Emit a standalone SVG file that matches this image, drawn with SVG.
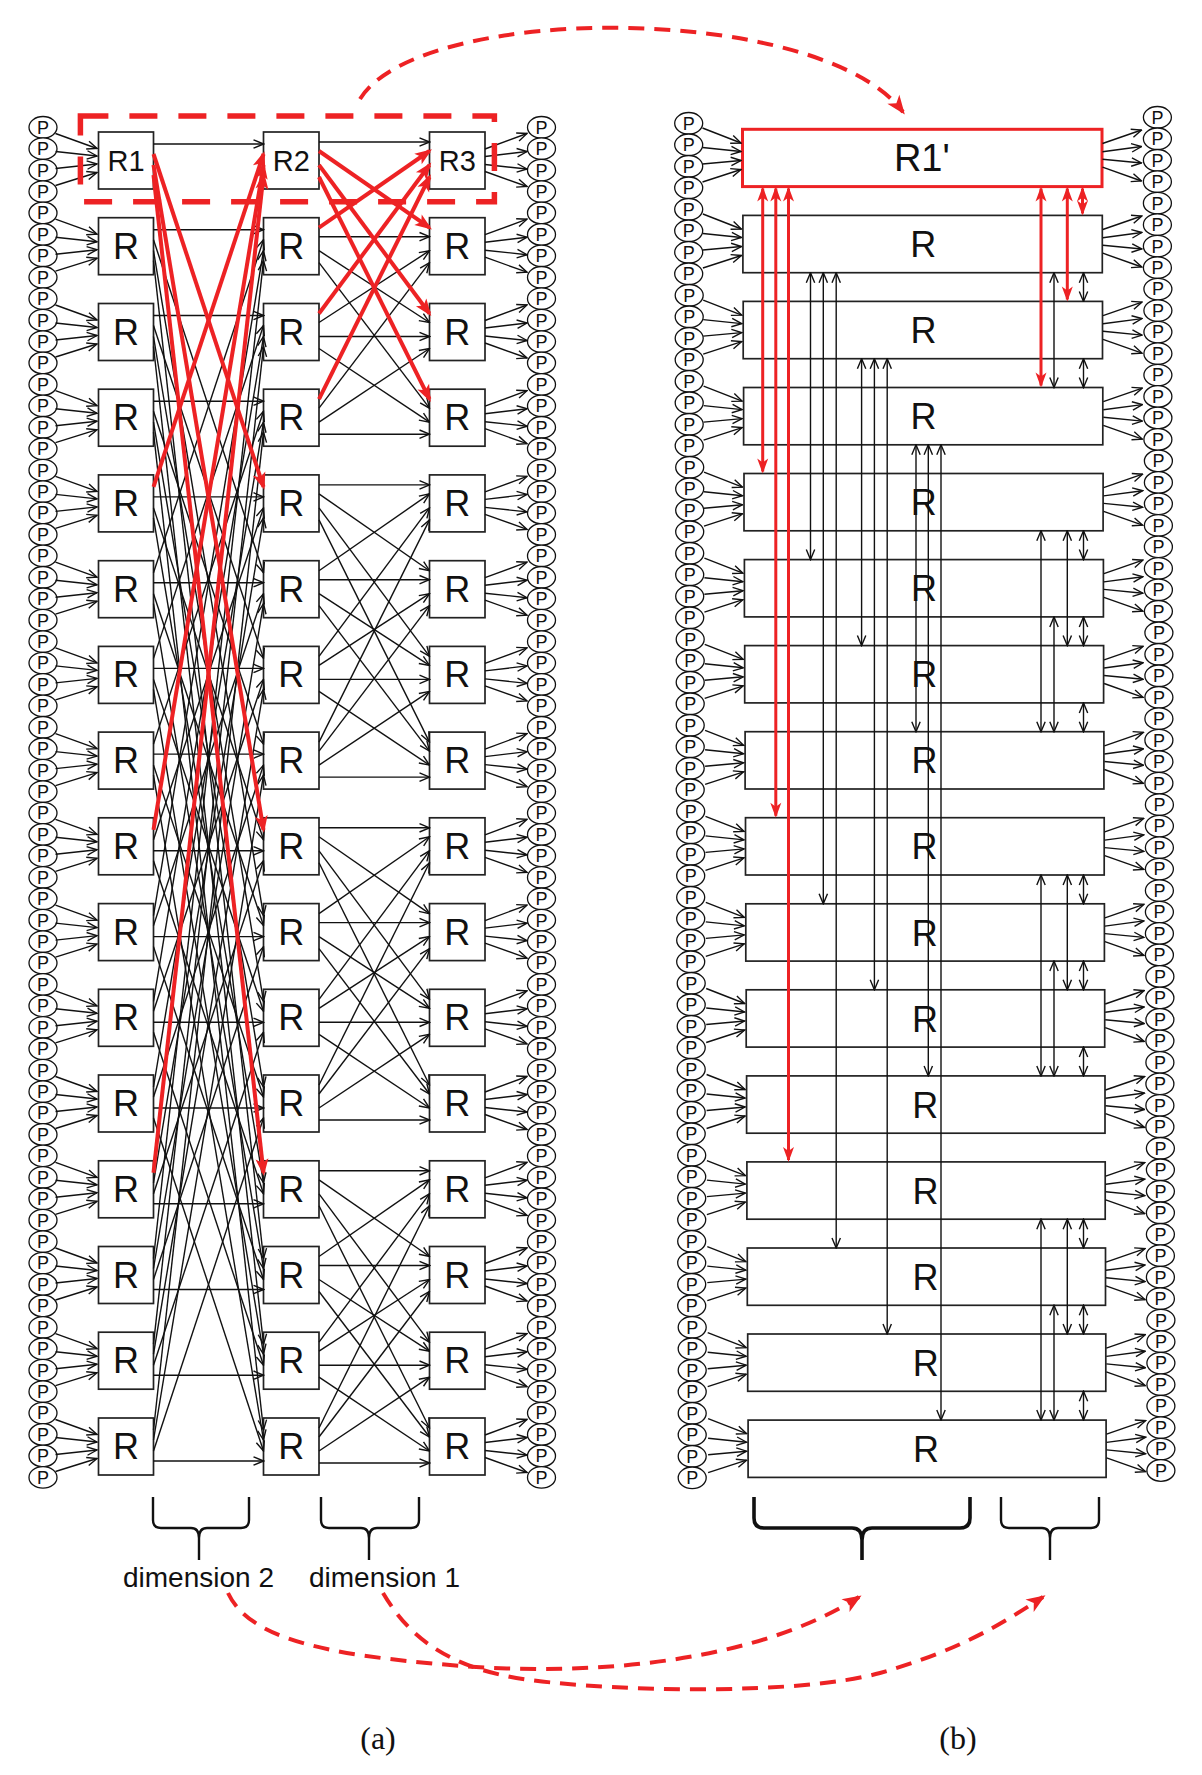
<svg xmlns="http://www.w3.org/2000/svg" xmlns:xlink="http://www.w3.org/1999/xlink" width="1202" height="1775" viewBox="0 0 1202 1775">
<style>
.bx{fill:#fff;stroke:#222;stroke-width:1.7}
.rt{font-family:"Liberation Sans",Arial,sans-serif;font-size:36px;text-anchor:middle;fill:#111}
.rt2{font-family:"Liberation Sans",Arial,sans-serif;font-size:29px;text-anchor:middle;fill:#111}
.pt{font-family:"Liberation Sans",Arial,sans-serif;font-size:18px;text-anchor:middle;fill:#111}
.lb{font-family:"Liberation Sans",Arial,sans-serif;font-size:28px;fill:#111}
.cap{font-family:"Liberation Serif","Times New Roman",serif;font-size:32px;text-anchor:middle;fill:#111}
.ln{stroke:#111;stroke-width:1.4;fill:none;marker-end:url(#ah)}
.dl{stroke:#111;stroke-width:1.4;fill:none;marker-start:url(#ah);marker-end:url(#ah)}
.rl{stroke:#ed2224;stroke-width:4;fill:none;marker-end:url(#ra)}
.rd{stroke:#ed2224;stroke-width:3;fill:none;marker-start:url(#rb);marker-end:url(#rb)}
.dash{stroke:#ed2224;stroke-width:4;fill:none;stroke-dasharray:16 10;marker-end:url(#rc)}
.brace{fill:none;stroke:#111;stroke-width:2.4}
.brace2{fill:none;stroke:#111;stroke-width:3.6}
</style>
<defs>
<marker id="ah" viewBox="-11 -6 12 12" refX="0" refY="0" markerWidth="12" markerHeight="12" markerUnits="userSpaceOnUse" orient="auto-start-reverse"><path d="M-10,-4.2 L0,0 L-10,4.2" fill="none" stroke="#111" stroke-width="1.4"/></marker>
<marker id="ra" viewBox="-16 -8 20 16" refX="0" refY="0" markerWidth="20" markerHeight="16" markerUnits="userSpaceOnUse" orient="auto-start-reverse"><path d="M3,0 L-14,-6.5 L-10,0 L-14,6.5 Z" fill="#ed2224"/></marker>
<marker id="rb" viewBox="-15 -7 18 14" refX="0" refY="0" markerWidth="18" markerHeight="14" markerUnits="userSpaceOnUse" orient="auto-start-reverse"><path d="M2,0 L-13,-5.5 L-9,0 L-13,5.5 Z" fill="#ed2224"/></marker>
<marker id="rc" viewBox="-18 -9 22 18" refX="0" refY="0" markerWidth="22" markerHeight="18" markerUnits="userSpaceOnUse" orient="auto"><path d="M3,0 L-16,-7.5 L-11,0 L-16,7.5 Z" fill="#ed2224"/></marker>
<g id="P"><ellipse rx="14" ry="10.8" fill="#fff" stroke="#111" stroke-width="1.3"/><text y="6.3" class="pt">P</text></g>
<g id="inA"><line class="ln" x1="55.5" y1="-27" x2="97" y2="-12"/><line class="ln" x1="55.5" y1="-9" x2="97" y2="-4.5"/><line class="ln" x1="55.5" y1="8" x2="97" y2="3.5"/><line class="ln" x1="55.5" y1="25" x2="97" y2="12"/></g>
<g id="outA"><line class="ln" x1="485" y1="-11.5" x2="527" y2="-27"/><line class="ln" x1="485" y1="-4" x2="527" y2="-9"/><line class="ln" x1="485" y1="4" x2="527" y2="8.5"/><line class="ln" x1="485" y1="11" x2="527" y2="26"/></g>
<g id="inB"><line class="ln" x1="-40" y1="-30" x2="-1.5" y2="-15"/><line class="ln" x1="-40" y1="-10.5" x2="-1.5" y2="-6.5"/><line class="ln" x1="-40" y1="6" x2="-1.5" y2="2.5"/><line class="ln" x1="-40" y1="24" x2="-1.5" y2="11.5"/></g>
<g id="outB"><line class="ln" x1="0.5" y1="-14.5" x2="39.5" y2="-28"/><line class="ln" x1="0.5" y1="-6.3" x2="39.5" y2="-11.5"/><line class="ln" x1="0.5" y1="1.2" x2="39.5" y2="5"/><line class="ln" x1="0.5" y1="9.2" x2="39.5" y2="23"/></g>
</defs>
<rect width="1202" height="1775" fill="#fff"/>

<g id="panel-a-processors">
<use id="pal0" href="#P" x="43" y="127.3"/><use id="pal1" href="#P" x="43" y="148.7"/><use id="pal2" href="#P" x="43" y="170.2"/><use id="pal3" href="#P" x="43" y="191.6"/>
<use id="pal4" href="#P" x="43" y="213"/><use id="pal5" href="#P" x="43" y="234.5"/><use id="pal6" href="#P" x="43" y="255.9"/><use id="pal7" href="#P" x="43" y="277.3"/>
<use id="pal8" href="#P" x="43" y="298.7"/><use id="pal9" href="#P" x="43" y="320.2"/><use id="pal10" href="#P" x="43" y="341.6"/><use id="pal11" href="#P" x="43" y="363"/>
<use id="pal12" href="#P" x="43" y="384.5"/><use id="pal13" href="#P" x="43" y="405.9"/><use id="pal14" href="#P" x="43" y="427.3"/><use id="pal15" href="#P" x="43" y="448.8"/>
<use id="pal16" href="#P" x="43" y="470.2"/><use id="pal17" href="#P" x="43" y="491.6"/><use id="pal18" href="#P" x="43" y="513"/><use id="pal19" href="#P" x="43" y="534.5"/>
<use id="pal20" href="#P" x="43" y="555.9"/><use id="pal21" href="#P" x="43" y="577.3"/><use id="pal22" href="#P" x="43" y="598.8"/><use id="pal23" href="#P" x="43" y="620.2"/>
<use id="pal24" href="#P" x="43" y="641.6"/><use id="pal25" href="#P" x="43" y="663.1"/><use id="pal26" href="#P" x="43" y="684.5"/><use id="pal27" href="#P" x="43" y="705.9"/>
<use id="pal28" href="#P" x="43" y="727.3"/><use id="pal29" href="#P" x="43" y="748.8"/><use id="pal30" href="#P" x="43" y="770.2"/><use id="pal31" href="#P" x="43" y="791.6"/>
<use id="pal32" href="#P" x="43" y="813.1"/><use id="pal33" href="#P" x="43" y="834.5"/><use id="pal34" href="#P" x="43" y="855.9"/><use id="pal35" href="#P" x="43" y="877.4"/>
<use id="pal36" href="#P" x="43" y="898.8"/><use id="pal37" href="#P" x="43" y="920.2"/><use id="pal38" href="#P" x="43" y="941.6"/><use id="pal39" href="#P" x="43" y="963.1"/>
<use id="pal40" href="#P" x="43" y="984.5"/><use id="pal41" href="#P" x="43" y="1005.9"/><use id="pal42" href="#P" x="43" y="1027.4"/><use id="pal43" href="#P" x="43" y="1048.8"/>
<use id="pal44" href="#P" x="43" y="1070.2"/><use id="pal45" href="#P" x="43" y="1091.7"/><use id="pal46" href="#P" x="43" y="1113.1"/><use id="pal47" href="#P" x="43" y="1134.5"/>
<use id="pal48" href="#P" x="43" y="1155.9"/><use id="pal49" href="#P" x="43" y="1177.4"/><use id="pal50" href="#P" x="43" y="1198.8"/><use id="pal51" href="#P" x="43" y="1220.2"/>
<use id="pal52" href="#P" x="43" y="1241.7"/><use id="pal53" href="#P" x="43" y="1263.1"/><use id="pal54" href="#P" x="43" y="1284.5"/><use id="pal55" href="#P" x="43" y="1306"/>
<use id="pal56" href="#P" x="43" y="1327.4"/><use id="pal57" href="#P" x="43" y="1348.8"/><use id="pal58" href="#P" x="43" y="1370.2"/><use id="pal59" href="#P" x="43" y="1391.7"/>
<use id="pal60" href="#P" x="43" y="1413.1"/><use id="pal61" href="#P" x="43" y="1434.5"/><use id="pal62" href="#P" x="43" y="1456"/><use id="pal63" href="#P" x="43" y="1477.4"/>

<use id="par0" href="#P" x="541.5" y="127.3"/><use id="par1" href="#P" x="541.5" y="148.7"/><use id="par2" href="#P" x="541.5" y="170.2"/><use id="par3" href="#P" x="541.5" y="191.6"/>
<use id="par4" href="#P" x="541.5" y="213"/><use id="par5" href="#P" x="541.5" y="234.5"/><use id="par6" href="#P" x="541.5" y="255.9"/><use id="par7" href="#P" x="541.5" y="277.3"/>
<use id="par8" href="#P" x="541.5" y="298.7"/><use id="par9" href="#P" x="541.5" y="320.2"/><use id="par10" href="#P" x="541.5" y="341.6"/><use id="par11" href="#P" x="541.5" y="363"/>
<use id="par12" href="#P" x="541.5" y="384.5"/><use id="par13" href="#P" x="541.5" y="405.9"/><use id="par14" href="#P" x="541.5" y="427.3"/><use id="par15" href="#P" x="541.5" y="448.8"/>
<use id="par16" href="#P" x="541.5" y="470.2"/><use id="par17" href="#P" x="541.5" y="491.6"/><use id="par18" href="#P" x="541.5" y="513"/><use id="par19" href="#P" x="541.5" y="534.5"/>
<use id="par20" href="#P" x="541.5" y="555.9"/><use id="par21" href="#P" x="541.5" y="577.3"/><use id="par22" href="#P" x="541.5" y="598.8"/><use id="par23" href="#P" x="541.5" y="620.2"/>
<use id="par24" href="#P" x="541.5" y="641.6"/><use id="par25" href="#P" x="541.5" y="663.1"/><use id="par26" href="#P" x="541.5" y="684.5"/><use id="par27" href="#P" x="541.5" y="705.9"/>
<use id="par28" href="#P" x="541.5" y="727.3"/><use id="par29" href="#P" x="541.5" y="748.8"/><use id="par30" href="#P" x="541.5" y="770.2"/><use id="par31" href="#P" x="541.5" y="791.6"/>
<use id="par32" href="#P" x="541.5" y="813.1"/><use id="par33" href="#P" x="541.5" y="834.5"/><use id="par34" href="#P" x="541.5" y="855.9"/><use id="par35" href="#P" x="541.5" y="877.4"/>
<use id="par36" href="#P" x="541.5" y="898.8"/><use id="par37" href="#P" x="541.5" y="920.2"/><use id="par38" href="#P" x="541.5" y="941.6"/><use id="par39" href="#P" x="541.5" y="963.1"/>
<use id="par40" href="#P" x="541.5" y="984.5"/><use id="par41" href="#P" x="541.5" y="1005.9"/><use id="par42" href="#P" x="541.5" y="1027.4"/><use id="par43" href="#P" x="541.5" y="1048.8"/>
<use id="par44" href="#P" x="541.5" y="1070.2"/><use id="par45" href="#P" x="541.5" y="1091.7"/><use id="par46" href="#P" x="541.5" y="1113.1"/><use id="par47" href="#P" x="541.5" y="1134.5"/>
<use id="par48" href="#P" x="541.5" y="1155.9"/><use id="par49" href="#P" x="541.5" y="1177.4"/><use id="par50" href="#P" x="541.5" y="1198.8"/><use id="par51" href="#P" x="541.5" y="1220.2"/>
<use id="par52" href="#P" x="541.5" y="1241.7"/><use id="par53" href="#P" x="541.5" y="1263.1"/><use id="par54" href="#P" x="541.5" y="1284.5"/><use id="par55" href="#P" x="541.5" y="1306"/>
<use id="par56" href="#P" x="541.5" y="1327.4"/><use id="par57" href="#P" x="541.5" y="1348.8"/><use id="par58" href="#P" x="541.5" y="1370.2"/><use id="par59" href="#P" x="541.5" y="1391.7"/>
<use id="par60" href="#P" x="541.5" y="1413.1"/><use id="par61" href="#P" x="541.5" y="1434.5"/><use id="par62" href="#P" x="541.5" y="1456"/><use id="par63" href="#P" x="541.5" y="1477.4"/>
</g>

<g id="panel-a-routers">
<g id="a-R1"><rect class="bx" x="98.5" y="132" width="55" height="57"/><text class="rt2" x="126" y="170.7">R1</text></g>
<g id="a-R2"><rect class="bx" x="263.5" y="132" width="55.5" height="57"/><text class="rt2" x="291.3" y="170.7">R2</text></g>
<g id="a-R3"><rect class="bx" x="429.5" y="132" width="55.5" height="57"/><text class="rt2" x="457.3" y="170.7">R3</text></g>
<g id="a-c1-r1"><rect class="bx" x="98.5" y="217.7" width="55" height="57"/><text class="rt" x="126" y="258.7">R</text></g>
<g id="a-c1-r2"><rect class="bx" x="98.5" y="303.5" width="55" height="57"/><text class="rt" x="126" y="344.5">R</text></g>
<g id="a-c1-r3"><rect class="bx" x="98.5" y="389.2" width="55" height="57"/><text class="rt" x="126" y="430.2">R</text></g>
<g id="a-c1-r4"><rect class="bx" x="98.5" y="474.9" width="55" height="57"/><text class="rt" x="126" y="515.9">R</text></g>
<g id="a-c1-r5"><rect class="bx" x="98.5" y="560.7" width="55" height="57"/><text class="rt" x="126" y="601.7">R</text></g>
<g id="a-c1-r6"><rect class="bx" x="98.5" y="646.4" width="55" height="57"/><text class="rt" x="126" y="687.4">R</text></g>
<g id="a-c1-r7"><rect class="bx" x="98.5" y="732.1" width="55" height="57"/><text class="rt" x="126" y="773.1">R</text></g>
<g id="a-c1-r8"><rect class="bx" x="98.5" y="817.8" width="55" height="57"/><text class="rt" x="126" y="858.8">R</text></g>
<g id="a-c1-r9"><rect class="bx" x="98.5" y="903.6" width="55" height="57"/><text class="rt" x="126" y="944.6">R</text></g>
<g id="a-c1-r10"><rect class="bx" x="98.5" y="989.3" width="55" height="57"/><text class="rt" x="126" y="1030.3">R</text></g>
<g id="a-c1-r11"><rect class="bx" x="98.5" y="1075" width="55" height="57"/><text class="rt" x="126" y="1116">R</text></g>
<g id="a-c1-r12"><rect class="bx" x="98.5" y="1160.8" width="55" height="57"/><text class="rt" x="126" y="1201.8">R</text></g>
<g id="a-c1-r13"><rect class="bx" x="98.5" y="1246.5" width="55" height="57"/><text class="rt" x="126" y="1287.5">R</text></g>
<g id="a-c1-r14"><rect class="bx" x="98.5" y="1332.2" width="55" height="57"/><text class="rt" x="126" y="1373.2">R</text></g>
<g id="a-c1-r15"><rect class="bx" x="98.5" y="1418" width="55" height="57"/><text class="rt" x="126" y="1459">R</text></g>
<g id="a-c2-r1"><rect class="bx" x="263.5" y="217.7" width="55.5" height="57"/><text class="rt" x="291.3" y="258.7">R</text></g>
<g id="a-c2-r2"><rect class="bx" x="263.5" y="303.5" width="55.5" height="57"/><text class="rt" x="291.3" y="344.5">R</text></g>
<g id="a-c2-r3"><rect class="bx" x="263.5" y="389.2" width="55.5" height="57"/><text class="rt" x="291.3" y="430.2">R</text></g>
<g id="a-c2-r4"><rect class="bx" x="263.5" y="474.9" width="55.5" height="57"/><text class="rt" x="291.3" y="515.9">R</text></g>
<g id="a-c2-r5"><rect class="bx" x="263.5" y="560.7" width="55.5" height="57"/><text class="rt" x="291.3" y="601.7">R</text></g>
<g id="a-c2-r6"><rect class="bx" x="263.5" y="646.4" width="55.5" height="57"/><text class="rt" x="291.3" y="687.4">R</text></g>
<g id="a-c2-r7"><rect class="bx" x="263.5" y="732.1" width="55.5" height="57"/><text class="rt" x="291.3" y="773.1">R</text></g>
<g id="a-c2-r8"><rect class="bx" x="263.5" y="817.8" width="55.5" height="57"/><text class="rt" x="291.3" y="858.8">R</text></g>
<g id="a-c2-r9"><rect class="bx" x="263.5" y="903.6" width="55.5" height="57"/><text class="rt" x="291.3" y="944.6">R</text></g>
<g id="a-c2-r10"><rect class="bx" x="263.5" y="989.3" width="55.5" height="57"/><text class="rt" x="291.3" y="1030.3">R</text></g>
<g id="a-c2-r11"><rect class="bx" x="263.5" y="1075" width="55.5" height="57"/><text class="rt" x="291.3" y="1116">R</text></g>
<g id="a-c2-r12"><rect class="bx" x="263.5" y="1160.8" width="55.5" height="57"/><text class="rt" x="291.3" y="1201.8">R</text></g>
<g id="a-c2-r13"><rect class="bx" x="263.5" y="1246.5" width="55.5" height="57"/><text class="rt" x="291.3" y="1287.5">R</text></g>
<g id="a-c2-r14"><rect class="bx" x="263.5" y="1332.2" width="55.5" height="57"/><text class="rt" x="291.3" y="1373.2">R</text></g>
<g id="a-c2-r15"><rect class="bx" x="263.5" y="1418" width="55.5" height="57"/><text class="rt" x="291.3" y="1459">R</text></g>
<g id="a-c3-r1"><rect class="bx" x="429.5" y="217.7" width="55.5" height="57"/><text class="rt" x="457.3" y="258.7">R</text></g>
<g id="a-c3-r2"><rect class="bx" x="429.5" y="303.5" width="55.5" height="57"/><text class="rt" x="457.3" y="344.5">R</text></g>
<g id="a-c3-r3"><rect class="bx" x="429.5" y="389.2" width="55.5" height="57"/><text class="rt" x="457.3" y="430.2">R</text></g>
<g id="a-c3-r4"><rect class="bx" x="429.5" y="474.9" width="55.5" height="57"/><text class="rt" x="457.3" y="515.9">R</text></g>
<g id="a-c3-r5"><rect class="bx" x="429.5" y="560.7" width="55.5" height="57"/><text class="rt" x="457.3" y="601.7">R</text></g>
<g id="a-c3-r6"><rect class="bx" x="429.5" y="646.4" width="55.5" height="57"/><text class="rt" x="457.3" y="687.4">R</text></g>
<g id="a-c3-r7"><rect class="bx" x="429.5" y="732.1" width="55.5" height="57"/><text class="rt" x="457.3" y="773.1">R</text></g>
<g id="a-c3-r8"><rect class="bx" x="429.5" y="817.8" width="55.5" height="57"/><text class="rt" x="457.3" y="858.8">R</text></g>
<g id="a-c3-r9"><rect class="bx" x="429.5" y="903.6" width="55.5" height="57"/><text class="rt" x="457.3" y="944.6">R</text></g>
<g id="a-c3-r10"><rect class="bx" x="429.5" y="989.3" width="55.5" height="57"/><text class="rt" x="457.3" y="1030.3">R</text></g>
<g id="a-c3-r11"><rect class="bx" x="429.5" y="1075" width="55.5" height="57"/><text class="rt" x="457.3" y="1116">R</text></g>
<g id="a-c3-r12"><rect class="bx" x="429.5" y="1160.8" width="55.5" height="57"/><text class="rt" x="457.3" y="1201.8">R</text></g>
<g id="a-c3-r13"><rect class="bx" x="429.5" y="1246.5" width="55.5" height="57"/><text class="rt" x="457.3" y="1287.5">R</text></g>
<g id="a-c3-r14"><rect class="bx" x="429.5" y="1332.2" width="55.5" height="57"/><text class="rt" x="457.3" y="1373.2">R</text></g>
<g id="a-c3-r15"><rect class="bx" x="429.5" y="1418" width="55.5" height="57"/><text class="rt" x="457.3" y="1459">R</text></g>
</g>

<g id="panel-b-processors">
<use id="pbl0" href="#P" x="688.7" y="123.3"/><use id="pbl1" href="#P" x="688.7" y="144.8"/><use id="pbl2" href="#P" x="688.7" y="166.3"/><use id="pbl3" href="#P" x="688.7" y="187.8"/>
<use id="pbl4" href="#P" x="688.7" y="209.3"/><use id="pbl5" href="#P" x="688.7" y="230.8"/><use id="pbl6" href="#P" x="688.7" y="252.3"/><use id="pbl7" href="#P" x="688.7" y="273.8"/>
<use id="pbl8" href="#P" x="689.2" y="295.3"/><use id="pbl9" href="#P" x="689.2" y="316.8"/><use id="pbl10" href="#P" x="689.2" y="338.3"/><use id="pbl11" href="#P" x="689.2" y="359.8"/>
<use id="pbl12" href="#P" x="689.2" y="381.3"/><use id="pbl13" href="#P" x="689.2" y="402.8"/><use id="pbl14" href="#P" x="689.2" y="424.3"/><use id="pbl15" href="#P" x="689.2" y="445.8"/>
<use id="pbl16" href="#P" x="689.7" y="467.3"/><use id="pbl17" href="#P" x="689.7" y="488.8"/><use id="pbl18" href="#P" x="689.7" y="510.3"/><use id="pbl19" href="#P" x="689.7" y="531.8"/>
<use id="pbl20" href="#P" x="689.7" y="553.3"/><use id="pbl21" href="#P" x="689.7" y="574.8"/><use id="pbl22" href="#P" x="689.7" y="596.3"/><use id="pbl23" href="#P" x="689.7" y="617.8"/>
<use id="pbl24" href="#P" x="690.2" y="639.3"/><use id="pbl25" href="#P" x="690.2" y="660.8"/><use id="pbl26" href="#P" x="690.2" y="682.3"/><use id="pbl27" href="#P" x="690.2" y="703.8"/>
<use id="pbl28" href="#P" x="690.2" y="725.3"/><use id="pbl29" href="#P" x="690.2" y="746.8"/><use id="pbl30" href="#P" x="690.2" y="768.3"/><use id="pbl31" href="#P" x="690.2" y="789.8"/>
<use id="pbl32" href="#P" x="690.7" y="811.3"/><use id="pbl33" href="#P" x="690.7" y="832.8"/><use id="pbl34" href="#P" x="690.7" y="854.3"/><use id="pbl35" href="#P" x="690.7" y="875.8"/>
<use id="pbl36" href="#P" x="690.7" y="897.3"/><use id="pbl37" href="#P" x="690.7" y="918.8"/><use id="pbl38" href="#P" x="690.7" y="940.3"/><use id="pbl39" href="#P" x="690.7" y="961.8"/>
<use id="pbl40" href="#P" x="691.2" y="983.3"/><use id="pbl41" href="#P" x="691.2" y="1004.8"/><use id="pbl42" href="#P" x="691.2" y="1026.3"/><use id="pbl43" href="#P" x="691.2" y="1047.8"/>
<use id="pbl44" href="#P" x="691.2" y="1069.3"/><use id="pbl45" href="#P" x="691.2" y="1090.8"/><use id="pbl46" href="#P" x="691.2" y="1112.3"/><use id="pbl47" href="#P" x="691.2" y="1133.8"/>
<use id="pbl48" href="#P" x="691.7" y="1155.3"/><use id="pbl49" href="#P" x="691.7" y="1176.8"/><use id="pbl50" href="#P" x="691.7" y="1198.3"/><use id="pbl51" href="#P" x="691.7" y="1219.8"/>
<use id="pbl52" href="#P" x="691.7" y="1241.3"/><use id="pbl53" href="#P" x="691.7" y="1262.8"/><use id="pbl54" href="#P" x="691.7" y="1284.3"/><use id="pbl55" href="#P" x="691.7" y="1305.8"/>
<use id="pbl56" href="#P" x="692.2" y="1327.3"/><use id="pbl57" href="#P" x="692.2" y="1348.8"/><use id="pbl58" href="#P" x="692.2" y="1370.3"/><use id="pbl59" href="#P" x="692.2" y="1391.8"/>
<use id="pbl60" href="#P" x="692.2" y="1413.3"/><use id="pbl61" href="#P" x="692.2" y="1434.8"/><use id="pbl62" href="#P" x="692.2" y="1456.3"/><use id="pbl63" href="#P" x="692.2" y="1477.8"/>

<use id="pbr0" href="#P" x="1157.4" y="117.3"/><use id="pbr1" href="#P" x="1157.4" y="138.8"/><use id="pbr2" href="#P" x="1157.4" y="160.3"/><use id="pbr3" href="#P" x="1157.4" y="181.7"/>
<use id="pbr4" href="#P" x="1157.4" y="203.2"/><use id="pbr5" href="#P" x="1157.4" y="224.7"/><use id="pbr6" href="#P" x="1157.4" y="246.2"/><use id="pbr7" href="#P" x="1157.4" y="267.7"/>
<use id="pbr8" href="#P" x="1157.9" y="289.1"/><use id="pbr9" href="#P" x="1157.9" y="310.6"/><use id="pbr10" href="#P" x="1157.9" y="332.1"/><use id="pbr11" href="#P" x="1157.9" y="353.6"/>
<use id="pbr12" href="#P" x="1157.9" y="375.1"/><use id="pbr13" href="#P" x="1157.9" y="396.5"/><use id="pbr14" href="#P" x="1157.9" y="418"/><use id="pbr15" href="#P" x="1157.9" y="439.5"/>
<use id="pbr16" href="#P" x="1158.4" y="461"/><use id="pbr17" href="#P" x="1158.4" y="482.5"/><use id="pbr18" href="#P" x="1158.4" y="503.9"/><use id="pbr19" href="#P" x="1158.4" y="525.4"/>
<use id="pbr20" href="#P" x="1158.4" y="546.9"/><use id="pbr21" href="#P" x="1158.4" y="568.4"/><use id="pbr22" href="#P" x="1158.4" y="589.9"/><use id="pbr23" href="#P" x="1158.4" y="611.3"/>
<use id="pbr24" href="#P" x="1158.9" y="632.8"/><use id="pbr25" href="#P" x="1158.9" y="654.3"/><use id="pbr26" href="#P" x="1158.9" y="675.8"/><use id="pbr27" href="#P" x="1158.9" y="697.3"/>
<use id="pbr28" href="#P" x="1158.9" y="718.7"/><use id="pbr29" href="#P" x="1158.9" y="740.2"/><use id="pbr30" href="#P" x="1158.9" y="761.7"/><use id="pbr31" href="#P" x="1158.9" y="783.2"/>
<use id="pbr32" href="#P" x="1159.4" y="804.7"/><use id="pbr33" href="#P" x="1159.4" y="826.1"/><use id="pbr34" href="#P" x="1159.4" y="847.6"/><use id="pbr35" href="#P" x="1159.4" y="869.1"/>
<use id="pbr36" href="#P" x="1159.4" y="890.6"/><use id="pbr37" href="#P" x="1159.4" y="912.1"/><use id="pbr38" href="#P" x="1159.4" y="933.5"/><use id="pbr39" href="#P" x="1159.4" y="955"/>
<use id="pbr40" href="#P" x="1159.9" y="976.5"/><use id="pbr41" href="#P" x="1159.9" y="998"/><use id="pbr42" href="#P" x="1159.9" y="1019.5"/><use id="pbr43" href="#P" x="1159.9" y="1040.9"/>
<use id="pbr44" href="#P" x="1159.9" y="1062.4"/><use id="pbr45" href="#P" x="1159.9" y="1083.9"/><use id="pbr46" href="#P" x="1159.9" y="1105.4"/><use id="pbr47" href="#P" x="1159.9" y="1126.9"/>
<use id="pbr48" href="#P" x="1160.4" y="1148.3"/><use id="pbr49" href="#P" x="1160.4" y="1169.8"/><use id="pbr50" href="#P" x="1160.4" y="1191.3"/><use id="pbr51" href="#P" x="1160.4" y="1212.8"/>
<use id="pbr52" href="#P" x="1160.4" y="1234.3"/><use id="pbr53" href="#P" x="1160.4" y="1255.7"/><use id="pbr54" href="#P" x="1160.4" y="1277.2"/><use id="pbr55" href="#P" x="1160.4" y="1298.7"/>
<use id="pbr56" href="#P" x="1160.9" y="1320.2"/><use id="pbr57" href="#P" x="1160.9" y="1341.7"/><use id="pbr58" href="#P" x="1160.9" y="1363.1"/><use id="pbr59" href="#P" x="1160.9" y="1384.6"/>
<use id="pbr60" href="#P" x="1160.9" y="1406.1"/><use id="pbr61" href="#P" x="1160.9" y="1427.6"/><use id="pbr62" href="#P" x="1160.9" y="1449.1"/><use id="pbr63" href="#P" x="1160.9" y="1470.5"/>
</g>

<g id="panel-b-routers">
<g id="b-R1p"><rect x="742.5" y="129.3" width="359.5" height="57.3" fill="#fff" stroke="#ed2224" stroke-width="3"/><text class="rt" style="font-size:38px" x="921.8" y="170.7">R1'</text></g>
<g id="b-r1"><rect class="bx" x="742.9" y="215.4" width="359.4" height="57.3"/><text class="rt" x="923.2" y="257.1">R</text></g>
<g id="b-r2"><rect class="bx" x="743.2" y="301.4" width="359.3" height="57.3"/><text class="rt" x="923.4" y="343.1">R</text></g>
<g id="b-r3"><rect class="bx" x="743.6" y="387.5" width="359.2" height="57.3"/><text class="rt" x="923.6" y="429.2">R</text></g>
<g id="b-r4"><rect class="bx" x="744" y="473.5" width="359.1" height="57.3"/><text class="rt" x="923.8" y="515.2">R</text></g>
<g id="b-r5"><rect class="bx" x="744.4" y="559.6" width="359" height="57.3"/><text class="rt" x="924" y="601.3">R</text></g>
<g id="b-r6"><rect class="bx" x="744.7" y="645.6" width="358.9" height="57.3"/><text class="rt" x="924.2" y="687.3">R</text></g>
<g id="b-r7"><rect class="bx" x="745.1" y="731.7" width="358.8" height="57.3"/><text class="rt" x="924.4" y="773.4">R</text></g>
<g id="b-r8"><rect class="bx" x="745.5" y="817.7" width="358.7" height="57.3"/><text class="rt" x="924.6" y="859.4">R</text></g>
<g id="b-r9"><rect class="bx" x="745.8" y="903.8" width="358.6" height="57.3"/><text class="rt" x="924.8" y="945.5">R</text></g>
<g id="b-r10"><rect class="bx" x="746.2" y="989.8" width="358.5" height="57.3"/><text class="rt" x="925" y="1031.5">R</text></g>
<g id="b-r11"><rect class="bx" x="746.6" y="1075.9" width="358.4" height="57.3"/><text class="rt" x="925.2" y="1117.6">R</text></g>
<g id="b-r12"><rect class="bx" x="746.9" y="1161.9" width="358.3" height="57.3"/><text class="rt" x="925.4" y="1203.6">R</text></g>
<g id="b-r13"><rect class="bx" x="747.3" y="1248" width="358.2" height="57.3"/><text class="rt" x="925.6" y="1289.7">R</text></g>
<g id="b-r14"><rect class="bx" x="747.7" y="1334" width="358.1" height="57.3"/><text class="rt" x="925.8" y="1375.7">R</text></g>
<g id="b-r15"><rect class="bx" x="748.1" y="1420.1" width="358" height="57.3"/><text class="rt" x="926" y="1461.8">R</text></g>
</g>

<g id="connectors">
<g id="a-proc-links">
<use href="#inA" y="160.5"/><use href="#inA" y="246.2"/><use href="#inA" y="332"/><use href="#inA" y="417.7"/>
<use href="#inA" y="503.4"/><use href="#inA" y="589.2"/><use href="#inA" y="674.9"/><use href="#inA" y="760.6"/>
<use href="#inA" y="846.3"/><use href="#inA" y="932.1"/><use href="#inA" y="1017.8"/><use href="#inA" y="1103.5"/>
<use href="#inA" y="1189.3"/><use href="#inA" y="1275"/><use href="#inA" y="1360.7"/><use href="#inA" y="1446.5"/>
<use href="#outA" y="160.5"/><use href="#outA" y="246.2"/><use href="#outA" y="332"/><use href="#outA" y="417.7"/>
<use href="#outA" y="503.4"/><use href="#outA" y="589.2"/><use href="#outA" y="674.9"/><use href="#outA" y="760.6"/>
<use href="#outA" y="846.3"/><use href="#outA" y="932.1"/><use href="#outA" y="1017.8"/><use href="#outA" y="1103.5"/>
<use href="#outA" y="1189.3"/><use href="#outA" y="1275"/><use href="#outA" y="1360.7"/><use href="#outA" y="1446.5"/>
</g>
<g id="a-dim2">
<line class="ln" x1="153.5" y1="144" x2="263.5" y2="144"/>
<line class="ln" x1="153.5" y1="229.7" x2="263.5" y2="229.7"/><line class="ln" x1="153.5" y1="239.7" x2="263.5" y2="572.7"/><line class="ln" x1="153.5" y1="250.7" x2="263.5" y2="915.6"/><line class="ln" x1="153.5" y1="260.7" x2="263.5" y2="1258.5"/>
<line class="ln" x1="153.5" y1="315.5" x2="263.5" y2="315.5"/><line class="ln" x1="153.5" y1="325.5" x2="263.5" y2="658.4"/><line class="ln" x1="153.5" y1="336.5" x2="263.5" y2="1001.3"/><line class="ln" x1="153.5" y1="346.5" x2="263.5" y2="1344.2"/>
<line class="ln" x1="153.5" y1="401.2" x2="263.5" y2="401.2"/><line class="ln" x1="153.5" y1="411.2" x2="263.5" y2="744.1"/><line class="ln" x1="153.5" y1="422.2" x2="263.5" y2="1087"/><line class="ln" x1="153.5" y1="432.2" x2="263.5" y2="1430"/>
<line class="ln" x1="153.5" y1="496.9" x2="263.5" y2="496.9"/><line class="ln" x1="153.5" y1="507.9" x2="263.5" y2="839.8"/><line class="ln" x1="153.5" y1="517.9" x2="263.5" y2="1182.8"/>
<line class="ln" x1="153.5" y1="572.7" x2="263.5" y2="239.7"/><line class="ln" x1="153.5" y1="582.7" x2="263.5" y2="582.7"/><line class="ln" x1="153.5" y1="593.7" x2="263.5" y2="925.6"/><line class="ln" x1="153.5" y1="603.7" x2="263.5" y2="1268.5"/>
<line class="ln" x1="153.5" y1="658.4" x2="263.5" y2="325.5"/><line class="ln" x1="153.5" y1="668.4" x2="263.5" y2="668.4"/><line class="ln" x1="153.5" y1="679.4" x2="263.5" y2="1011.3"/><line class="ln" x1="153.5" y1="689.4" x2="263.5" y2="1354.2"/>
<line class="ln" x1="153.5" y1="744.1" x2="263.5" y2="411.2"/><line class="ln" x1="153.5" y1="754.1" x2="263.5" y2="754.1"/><line class="ln" x1="153.5" y1="765.1" x2="263.5" y2="1097"/><line class="ln" x1="153.5" y1="775.1" x2="263.5" y2="1440"/>
<line class="ln" x1="153.5" y1="839.8" x2="263.5" y2="507.9"/><line class="ln" x1="153.5" y1="850.8" x2="263.5" y2="850.8"/><line class="ln" x1="153.5" y1="860.8" x2="263.5" y2="1193.8"/>
<line class="ln" x1="153.5" y1="915.6" x2="263.5" y2="250.7"/><line class="ln" x1="153.5" y1="925.6" x2="263.5" y2="593.7"/><line class="ln" x1="153.5" y1="936.6" x2="263.5" y2="936.6"/><line class="ln" x1="153.5" y1="946.6" x2="263.5" y2="1279.5"/>
<line class="ln" x1="153.5" y1="1001.3" x2="263.5" y2="336.5"/><line class="ln" x1="153.5" y1="1011.3" x2="263.5" y2="679.4"/><line class="ln" x1="153.5" y1="1022.3" x2="263.5" y2="1022.3"/><line class="ln" x1="153.5" y1="1032.3" x2="263.5" y2="1365.2"/>
<line class="ln" x1="153.5" y1="1087" x2="263.5" y2="422.2"/><line class="ln" x1="153.5" y1="1097" x2="263.5" y2="765.1"/><line class="ln" x1="153.5" y1="1108" x2="263.5" y2="1108"/><line class="ln" x1="153.5" y1="1118" x2="263.5" y2="1451"/>
<line class="ln" x1="153.5" y1="1182.8" x2="263.5" y2="517.9"/><line class="ln" x1="153.5" y1="1193.8" x2="263.5" y2="860.8"/><line class="ln" x1="153.5" y1="1203.8" x2="263.5" y2="1203.8"/>
<line class="ln" x1="153.5" y1="1258.5" x2="263.5" y2="260.7"/><line class="ln" x1="153.5" y1="1268.5" x2="263.5" y2="603.7"/><line class="ln" x1="153.5" y1="1279.5" x2="263.5" y2="946.6"/><line class="ln" x1="153.5" y1="1289.5" x2="263.5" y2="1289.5"/>
<line class="ln" x1="153.5" y1="1344.2" x2="263.5" y2="346.5"/><line class="ln" x1="153.5" y1="1354.2" x2="263.5" y2="689.4"/><line class="ln" x1="153.5" y1="1365.2" x2="263.5" y2="1032.3"/><line class="ln" x1="153.5" y1="1375.2" x2="263.5" y2="1375.2"/>
<line class="ln" x1="153.5" y1="1430" x2="263.5" y2="432.2"/><line class="ln" x1="153.5" y1="1440" x2="263.5" y2="775.1"/><line class="ln" x1="153.5" y1="1451" x2="263.5" y2="1118"/><line class="ln" x1="153.5" y1="1461" x2="263.5" y2="1461"/>
</g>
<g id="a-dim1">
<line class="ln" x1="319" y1="142" x2="429.5" y2="142"/>
<line class="ln" x1="319" y1="236.7" x2="429.5" y2="236.7"/><line class="ln" x1="319" y1="250.7" x2="429.5" y2="322.5"/><line class="ln" x1="319" y1="262.7" x2="429.5" y2="408.2"/>
<line class="ln" x1="319" y1="322.5" x2="429.5" y2="250.7"/><line class="ln" x1="319" y1="336.5" x2="429.5" y2="336.5"/><line class="ln" x1="319" y1="348.5" x2="429.5" y2="422.2"/>
<line class="ln" x1="319" y1="408.2" x2="429.5" y2="262.7"/><line class="ln" x1="319" y1="422.2" x2="429.5" y2="348.5"/><line class="ln" x1="319" y1="434.2" x2="429.5" y2="434.2"/>
<line class="ln" x1="319" y1="484.9" x2="429.5" y2="484.9"/><line class="ln" x1="319" y1="493.9" x2="429.5" y2="570.7"/><line class="ln" x1="319" y1="507.9" x2="429.5" y2="656.4"/><line class="ln" x1="319" y1="519.9" x2="429.5" y2="742.1"/>
<line class="ln" x1="319" y1="570.7" x2="429.5" y2="493.9"/><line class="ln" x1="319" y1="579.7" x2="429.5" y2="579.7"/><line class="ln" x1="319" y1="593.7" x2="429.5" y2="665.4"/><line class="ln" x1="319" y1="605.7" x2="429.5" y2="751.1"/>
<line class="ln" x1="319" y1="656.4" x2="429.5" y2="507.9"/><line class="ln" x1="319" y1="665.4" x2="429.5" y2="593.7"/><line class="ln" x1="319" y1="679.4" x2="429.5" y2="679.4"/><line class="ln" x1="319" y1="691.4" x2="429.5" y2="765.1"/>
<line class="ln" x1="319" y1="742.1" x2="429.5" y2="519.9"/><line class="ln" x1="319" y1="751.1" x2="429.5" y2="605.7"/><line class="ln" x1="319" y1="765.1" x2="429.5" y2="691.4"/><line class="ln" x1="319" y1="777.1" x2="429.5" y2="777.1"/>
<line class="ln" x1="319" y1="827.8" x2="429.5" y2="827.8"/><line class="ln" x1="319" y1="836.8" x2="429.5" y2="913.6"/><line class="ln" x1="319" y1="850.8" x2="429.5" y2="999.3"/><line class="ln" x1="319" y1="862.8" x2="429.5" y2="1085"/>
<line class="ln" x1="319" y1="913.6" x2="429.5" y2="836.8"/><line class="ln" x1="319" y1="922.6" x2="429.5" y2="922.6"/><line class="ln" x1="319" y1="936.6" x2="429.5" y2="1008.3"/><line class="ln" x1="319" y1="948.6" x2="429.5" y2="1094"/>
<line class="ln" x1="319" y1="999.3" x2="429.5" y2="850.8"/><line class="ln" x1="319" y1="1008.3" x2="429.5" y2="936.6"/><line class="ln" x1="319" y1="1022.3" x2="429.5" y2="1022.3"/><line class="ln" x1="319" y1="1034.3" x2="429.5" y2="1108"/>
<line class="ln" x1="319" y1="1085" x2="429.5" y2="862.8"/><line class="ln" x1="319" y1="1094" x2="429.5" y2="948.6"/><line class="ln" x1="319" y1="1108" x2="429.5" y2="1034.3"/><line class="ln" x1="319" y1="1120" x2="429.5" y2="1120"/>
<line class="ln" x1="319" y1="1170.8" x2="429.5" y2="1170.8"/><line class="ln" x1="319" y1="1179.8" x2="429.5" y2="1256.5"/><line class="ln" x1="319" y1="1193.8" x2="429.5" y2="1342.2"/><line class="ln" x1="319" y1="1205.8" x2="429.5" y2="1428"/>
<line class="ln" x1="319" y1="1256.5" x2="429.5" y2="1179.8"/><line class="ln" x1="319" y1="1265.5" x2="429.5" y2="1265.5"/><line class="ln" x1="319" y1="1279.5" x2="429.5" y2="1351.2"/><line class="ln" x1="319" y1="1291.5" x2="429.5" y2="1437"/>
<line class="ln" x1="319" y1="1342.2" x2="429.5" y2="1193.8"/><line class="ln" x1="319" y1="1351.2" x2="429.5" y2="1279.5"/><line class="ln" x1="319" y1="1365.2" x2="429.5" y2="1365.2"/><line class="ln" x1="319" y1="1377.2" x2="429.5" y2="1451"/>
<line class="ln" x1="319" y1="1428" x2="429.5" y2="1205.8"/><line class="ln" x1="319" y1="1437" x2="429.5" y2="1291.5"/><line class="ln" x1="319" y1="1451" x2="429.5" y2="1377.2"/><line class="ln" x1="319" y1="1463" x2="429.5" y2="1463"/>
</g>
<g id="a-red">
<line class="rl" x1="153.5" y1="154" x2="263.5" y2="486.9"/>
<line class="rl" x1="153.5" y1="165" x2="263.5" y2="829.8"/>
<line class="rl" x1="153.5" y1="175" x2="263.5" y2="1172.8"/>
<line class="rl" x1="153.5" y1="486.9" x2="263.5" y2="154"/>
<line class="rl" x1="153.5" y1="829.8" x2="263.5" y2="165"/>
<line class="rl" x1="153.5" y1="1172.8" x2="263.5" y2="175"/>
<line class="rl" x1="319" y1="151" x2="429.5" y2="227.7"/>
<line class="rl" x1="319" y1="165" x2="429.5" y2="313.5"/>
<line class="rl" x1="319" y1="177" x2="429.5" y2="399.2"/>
<line class="rl" x1="319" y1="227.7" x2="429.5" y2="151"/>
<line class="rl" x1="319" y1="313.5" x2="429.5" y2="165"/>
<line class="rl" x1="319" y1="399.2" x2="429.5" y2="177"/>
</g>
<g id="b-proc-links">
<use href="#inB" transform="translate(742.5,158)"/><use href="#inB" transform="translate(742.9,244)"/><use href="#inB" transform="translate(743.2,330.1)"/><use href="#inB" transform="translate(743.6,416.1)"/>
<use href="#inB" transform="translate(744,502.2)"/><use href="#inB" transform="translate(744.4,588.2)"/><use href="#inB" transform="translate(744.7,674.3)"/><use href="#inB" transform="translate(745.1,760.3)"/>
<use href="#inB" transform="translate(745.5,846.4)"/><use href="#inB" transform="translate(745.8,932.4)"/><use href="#inB" transform="translate(746.2,1018.5)"/><use href="#inB" transform="translate(746.6,1104.5)"/>
<use href="#inB" transform="translate(746.9,1190.6)"/><use href="#inB" transform="translate(747.3,1276.6)"/><use href="#inB" transform="translate(747.7,1362.7)"/><use href="#inB" transform="translate(748.1,1448.7)"/>
<use href="#outB" transform="translate(1102,158)"/><use href="#outB" transform="translate(1102.3,244)"/><use href="#outB" transform="translate(1102.5,330.1)"/><use href="#outB" transform="translate(1102.8,416.1)"/>
<use href="#outB" transform="translate(1103.1,502.2)"/><use href="#outB" transform="translate(1103.4,588.2)"/><use href="#outB" transform="translate(1103.6,674.3)"/><use href="#outB" transform="translate(1103.9,760.3)"/>
<use href="#outB" transform="translate(1104.2,846.4)"/><use href="#outB" transform="translate(1104.4,932.4)"/><use href="#outB" transform="translate(1104.7,1018.5)"/><use href="#outB" transform="translate(1105,1104.5)"/>
<use href="#outB" transform="translate(1105.2,1190.6)"/><use href="#outB" transform="translate(1105.5,1276.6)"/><use href="#outB" transform="translate(1105.8,1362.7)"/><use href="#outB" transform="translate(1106.1,1448.7)"/>
</g>
<g id="b-dim2">
<line class="dl" x1="810.5" y1="272.7" x2="810.5" y2="559.6"/><line class="dl" x1="823.3" y1="272.7" x2="823.3" y2="903.8"/><line class="dl" x1="836.2" y1="272.7" x2="836.2" y2="1248"/>
<line class="dl" x1="861.6" y1="358.7" x2="861.6" y2="645.6"/><line class="dl" x1="874.4" y1="358.7" x2="874.4" y2="989.8"/><line class="dl" x1="887.2" y1="358.7" x2="887.2" y2="1334"/>
<line class="dl" x1="916" y1="444.8" x2="916" y2="731.7"/><line class="dl" x1="928.3" y1="444.8" x2="928.3" y2="1075.9"/><line class="dl" x1="941" y1="444.8" x2="941" y2="1420.1"/>
</g>
<g id="b-dim1">
<line class="dl" x1="1054" y1="272.7" x2="1054" y2="387.5"/><line class="dl" x1="1083.5" y1="272.7" x2="1083.5" y2="301.4"/><line class="dl" x1="1083.5" y1="358.7" x2="1083.5" y2="387.5"/>
<line class="dl" x1="1041" y1="530.8" x2="1041" y2="731.7"/><line class="dl" x1="1054" y1="616.9" x2="1054" y2="731.7"/><line class="dl" x1="1067.3" y1="530.8" x2="1067.3" y2="645.6"/>
<line class="dl" x1="1083.5" y1="530.8" x2="1083.5" y2="559.6"/><line class="dl" x1="1083.5" y1="616.9" x2="1083.5" y2="645.6"/><line class="dl" x1="1083.5" y1="702.9" x2="1083.5" y2="731.7"/>
<line class="dl" x1="1041" y1="875" x2="1041" y2="1075.9"/><line class="dl" x1="1054" y1="961.1" x2="1054" y2="1075.9"/><line class="dl" x1="1067.3" y1="875" x2="1067.3" y2="989.8"/>
<line class="dl" x1="1083.5" y1="875" x2="1083.5" y2="903.8"/><line class="dl" x1="1083.5" y1="961.1" x2="1083.5" y2="989.8"/><line class="dl" x1="1083.5" y1="1047.1" x2="1083.5" y2="1075.9"/>
<line class="dl" x1="1041" y1="1219.2" x2="1041" y2="1420.1"/><line class="dl" x1="1054" y1="1305.3" x2="1054" y2="1420.1"/><line class="dl" x1="1067.3" y1="1219.2" x2="1067.3" y2="1334"/>
<line class="dl" x1="1083.5" y1="1219.2" x2="1083.5" y2="1248"/><line class="dl" x1="1083.5" y1="1305.3" x2="1083.5" y2="1334"/><line class="dl" x1="1083.5" y1="1391.3" x2="1083.5" y2="1420.1"/>
</g>
<g id="b-red">
<line class="rd" x1="762.7" y1="188.6" x2="762.7" y2="471.5"/>
<line class="rd" x1="775.8" y1="188.6" x2="775.8" y2="815.7"/>
<line class="rd" x1="788.5" y1="188.6" x2="788.5" y2="1159.9"/>
<line class="rd" x1="1041" y1="188.6" x2="1041" y2="385.5"/>
<line class="rd" x1="1067.3" y1="188.6" x2="1067.3" y2="299.4"/>
<line class="rd" x1="1082.5" y1="188.6" x2="1082.5" y2="213.4"/>
</g>
</g>

<g id="annotations">
<rect id="a-group-box" x="80.4" y="116" width="414" height="85.7" fill="none" stroke="#ed2224" stroke-width="5.5" stroke-dasharray="28 21"/>
<path id="map-top" class="dash" d="M360,99 C420,2 820,2 903,112"/>
<path id="map-dim2" class="dash" d="M228,1593 C250,1640 330,1655 450,1665 C600,1678 760,1660 859,1597"/>
<path id="map-dim1" class="dash" d="M383,1593 C405,1630 440,1668 530,1680 C620,1692 800,1695 880,1673 C960,1650 1000,1625 1043,1597"/>
<path class="brace" d="M153,1497 V1520 Q153,1528 161,1528 H191 Q199,1528 199,1538 V1560 M199,1538 Q199,1528 207,1528 H241 Q249,1528 249,1520 V1497"/>
<path class="brace" d="M321,1497 V1520 Q321,1528 329,1528 H361 Q369,1528 369,1538 V1560 M369,1538 Q369,1528 377,1528 H411 Q419,1528 419,1520 V1497"/>
<path class="brace2" d="M754,1497 V1518 Q754,1528 764,1528 H852 Q862,1528 862,1540 V1560 M862,1540 Q862,1528 872,1528 H960 Q970,1528 970,1518 V1497"/>
<path class="brace" d="M1001,1497 V1520 Q1001,1528 1009,1528 H1042 Q1050,1528 1050,1538 V1560 M1050,1538 Q1050,1528 1058,1528 H1091 Q1099,1528 1099,1520 V1497"/>
<text class="lb" x="123" y="1587">dimension 2</text>
<text class="lb" x="309" y="1587">dimension 1</text>
<text class="cap" x="378" y="1749">(a)</text>
<text class="cap" x="958" y="1749">(b)</text>
</g>
</svg>
